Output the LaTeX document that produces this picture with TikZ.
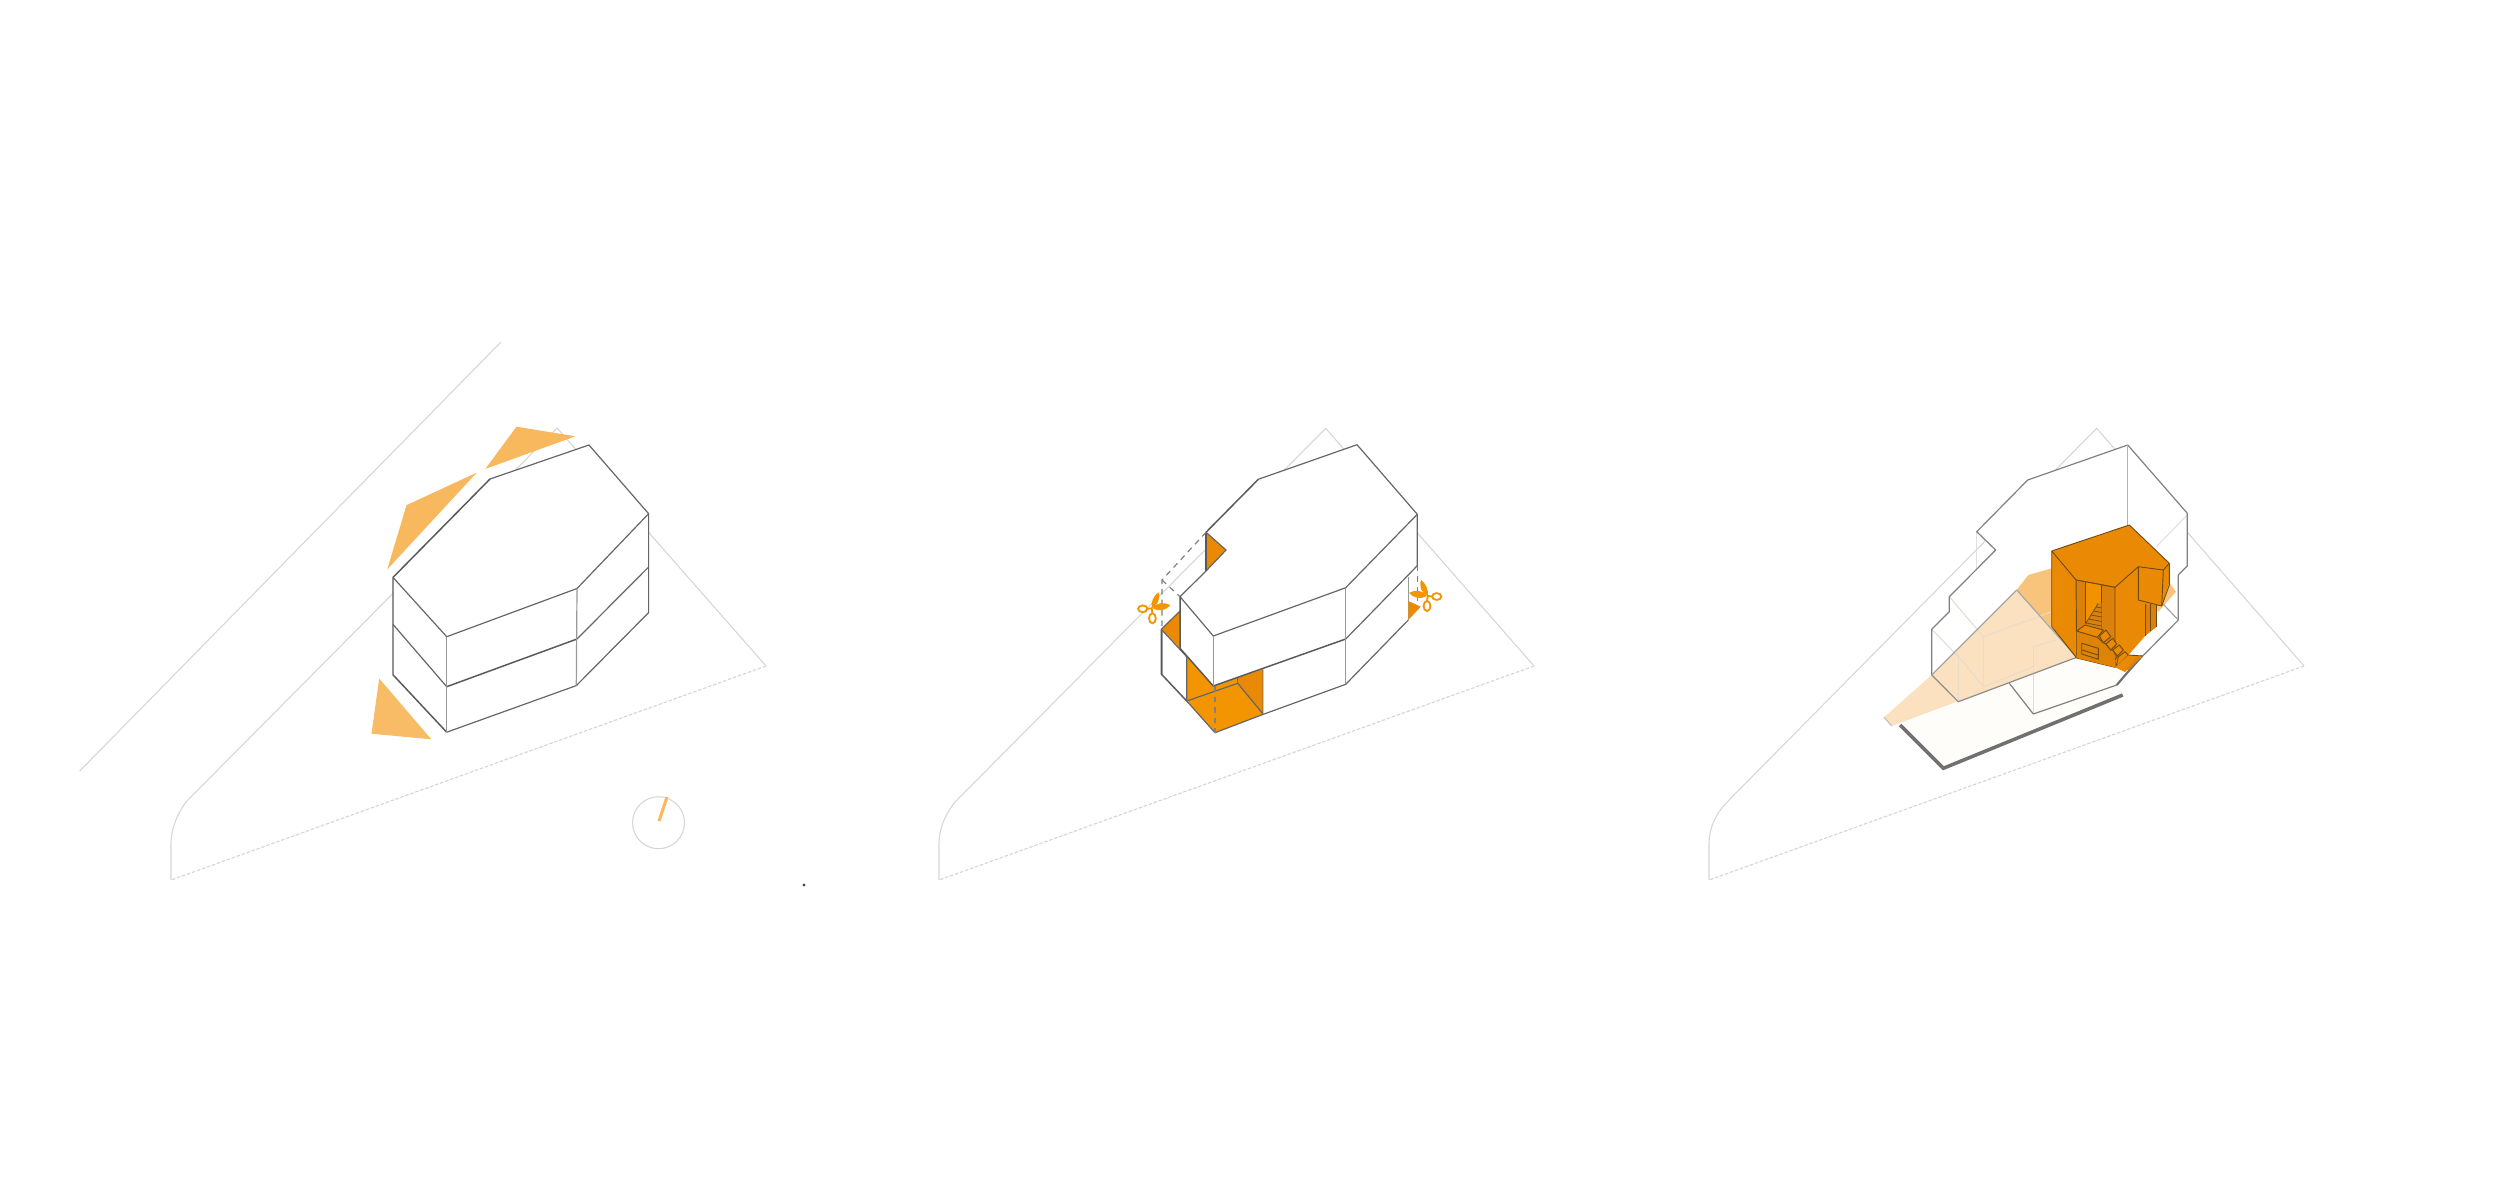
\documentclass[tikz,border=0pt]{standalone}
\definecolor{lightor}{HTML}{F8B85E}
\definecolor{brightor}{HTML}{F39500}
\definecolor{midor}{HTML}{EA8A04}
\definecolor{deepor}{HTML}{DC800C}
\definecolor{conepale}{HTML}{FBE1C0}
\definecolor{conemid}{HTML}{F8C47C}
\definecolor{floorw}{HTML}{FEFDFA}
\definecolor{sitec}{HTML}{D6D6D6}
\definecolor{edgec}{HTML}{666666}
\definecolor{thickc}{HTML}{707070}
\definecolor{ghost}{HTML}{E6DCCB}
\definecolor{blockc}{HTML}{6E4A12}
\tikzset{
  sitel/.style={draw=sitec,line width=0.3pt},
  sited/.style={draw=sitec,line width=0.32pt,dash pattern=on 1pt off 0.5pt},
  edgel/.style={draw=edgec,line width=0.34pt,line join=round},
  edgeh/.style={draw=black!65,line width=0.42pt,line join=round},
  softl/.style={draw=black!40,line width=0.34pt,line join=round},
  wfill/.style={fill=white},
  dashl/.style={draw=black!50,line width=0.34pt,dash pattern=on 1.6pt off 1.4pt},
  ghostl/.style={draw=ghost,line width=0.3pt},
  blockl/.style={draw=blockc,line width=0.26pt,line join=round},
  scissorsp/.pic={
    \fill[brightor] (0,0) .. controls (-1,-6) and (1.5,-12) .. (6.7,-16) .. controls (9,-9) and (6,-3) .. cycle;
    \fill[brightor] (1,0) .. controls (5,-6) and (12,-6.5) .. (18.5,-3.3) .. controls (14,2.5) and (7,3.5) .. cycle;
    \draw[brightor,line width=0.52pt] (-9,0.5) ellipse (4.6 and 3.4);
    \draw[brightor,line width=0.52pt] (0.7,10) ellipse (3.4 and 5);
    \draw[brightor,line width=0.52pt] (-4.5,0.5) -- (0,0) -- (0.7,5);
  }
}
\begin{document}
\begin{tikzpicture}[x=0.01cm,y=-0.01cm]
\useasboundingbox (0,0) rectangle (2500,1200);
\fill[white] (0,0) rectangle (2500,1200);

% ---------- Panel 1 ----------
\draw[sitel] (501,342) -- (79.7,771);
\draw[sitel] (171,880) -- (171,844) .. controls (171,830) and (176,816) .. (186,802) -- (557,428) -- (766,666);
\draw[sited] (766,666) -- (171,880);
\fill[lightor] (516.5,426.7) -- (575.4,436.3) -- (485.4,468.9) -- cycle;
\fill[lightor] (476.8,472.6) -- (406.5,505.2) -- (387.3,569.3) -- cycle;
\fill[lightor!95!white] (379.2,678.5) -- (371.5,733.7) -- (431.3,739.3) -- cycle;
\path[wfill] (589,445) -- (648.6,513.7) -- (648.6,612.6) -- (576.3,685.6) -- (446.7,732.2) -- (393,674.8) -- (393,577.4) -- (490,479) -- cycle;
\draw[edgeh] (393,577.4) -- (490,479);
\draw[edgel] (490,479) -- (589,445) -- (648.6,513.7);
\draw[edgel] (393,577.4) -- (446.7,636.7) -- (577,588.5) -- (648.6,513.7);
\draw[edgeh] (393,577.4) -- (393,674.8) -- (446.7,732.2);
\draw[edgel] (393,624.4) -- (446.7,686.7);
\draw[edgeh] (446.7,686.7) -- (577,639);
\draw[edgel] (577,639) -- (648.6,567);
\draw[edgel] (446.7,732.2) -- (576.3,685.6) -- (648.6,612.6) -- (648.6,513.7);
\draw[softl] (446.7,636.7) -- (446.7,732.2);
\draw[softl] (577,588.5) -- (576.3,685.6);
\draw[draw=sitec,line width=0.3pt] (658.5,822.7) circle (26);
\draw[lightor,line width=0.85pt] (667,797) -- (659,821);
\fill[black!70] (804,885) circle (1.6);

% ---------- Panel 2 ----------
\draw[sitel] (939,880) -- (939,844) .. controls (939,830) and (944,816) .. (955,802) -- (1325.7,428.3) -- (1534,666);
\draw[sited] (1534,666) -- (939,880);
% lower volume
\path[wfill] (1161.3,629.3) -- (1180,648.3) -- (1186.7,656.7) -- (1186.7,701) -- (1161.3,674) -- cycle;
\draw[edgeh] (1161.3,629.3) -- (1161.3,674) -- (1186.7,701);
\draw[softl] (1162.3,630) -- (1162.3,674);
\fill[midor] (1161.3,629.3) -- (1180,611) -- (1180,648.3) -- cycle;
\draw[edgel] (1161.3,629.3) -- (1180,611);
\draw[edgel] (1161.3,629.3) -- (1186.7,656.7);
% orange cut floor
\fill[brightor] (1186.7,656.7) -- (1213.3,686) -- (1263.3,669.3) -- (1263.3,714.3) -- (1215,732.7) -- (1186.7,701) -- cycle;
\fill[midor] (1237.7,678) -- (1263.3,669.3) -- (1263.3,714.3) -- (1237.7,683.3) -- cycle;
\draw[edgel] (1186.7,656.7) -- (1186.7,701) -- (1215,732.7) -- (1263.3,714.3) -- (1263.3,669.3);
\draw[edgel] (1186.7,701) -- (1237.7,683.3) -- (1263.3,714.3);
\draw[edgel] (1237.7,683.3) -- (1237.7,677.5);
\draw[dashl] (1215,686) -- (1215,732.7);
% lower wall
\path[wfill] (1263.3,669.3) -- (1345.7,639) -- (1345.7,684.3) -- (1263.3,714.3) -- cycle;
\path[wfill] (1345.7,639) -- (1408.3,576.7) -- (1408.3,620) -- (1345.7,684.3) -- cycle;
\path[wfill] (1408.3,576.7) -- (1417.3,565.7) -- (1417.3,601) -- (1408.3,601) -- cycle;
\draw[edgel] (1263.3,714.3) -- (1345.7,684.3) -- (1408.3,620);
\draw[softl] (1408.3,576.7) -- (1408.3,620);
\fill[midor] (1408.3,601) -- (1420.7,606.7) -- (1408.3,620) -- cycle;
\draw[dashl] (1417.3,565.7) -- (1417.3,601);
% upper volume
\path[wfill] (1357,444.7) -- (1417.3,514.3) -- (1417.3,565.7) -- (1345.7,639) -- (1213.3,686) -- (1180,648.3) -- (1180,596.7) -- (1206,571) -- (1226,550) -- (1206,532.3) -- (1258.3,479.3) -- cycle;
\fill[midor] (1206,532.3) -- (1226,550) -- (1206,571) -- cycle;
\draw[edgel] (1206,532.3) -- (1226,550) -- (1206,571);
\draw[edgeh] (1206,532.3) -- (1206,571);
\draw[edgeh] (1206,532.3) -- (1258.3,479.3);
\draw[edgel] (1258.3,479.3) -- (1357,444.7) -- (1417.3,514.3) -- (1345.7,587.7) -- (1213.3,636) -- (1180,596.7) -- (1206,571);
\draw[edgeh] (1180,596.7) -- (1180,648.3) -- (1213.3,686) -- (1345.7,639) ;
\draw[edgel] (1345.7,639) -- (1417.3,565.7) -- (1417.3,514.3);
\draw[softl] (1213.3,636) -- (1213.3,686);
\draw[softl] (1345.7,587.7) -- (1345.7,684.3);
% dashed removed corner
\draw[dashl] (1206,532.3) -- (1162,580) -- (1162,629.3);
\draw[dashl] (1162,580) -- (1180,596.7);
\pic at (1151.7,608.3) {scissorsp};
\pic[xscale=-1] at (1427.7,596) {scissorsp};

% ---------- Panel 3 ----------
\draw[sitel] (1709,880) -- (1709,844) .. controls (1709,830) and (1714,816) .. (1727,802) -- (2096.7,428.3) -- (2304,666);
\draw[sited] (2304,666) -- (1709,880);
% white building
\path[wfill] (2127.7,445) -- (2187.3,513.3) -- (2187.3,566) -- (2178.3,575) -- (2178.3,620) -- (2116.7,685) -- (2033.3,714) -- (2009.3,683.3) -- (1931.7,675) -- (1931.7,629.3) -- (1949.3,611.7) -- (1949.3,596.7) -- (1995.7,550) -- (1976.7,531.7) -- (2027.7,480) -- cycle;
\draw[draw=black!12,line width=0.3pt] (2187.3,515) -- (2156,547);
\draw[draw=black!12,line width=0.3pt] (1976.7,531.7) -- (1976.7,570);
% floor
\fill[floorw] (1900,725) -- (2009.3,683.3) -- (2033.3,714) -- (2116.7,685) -- (2122.7,695) -- (1943.3,768.3) -- cycle;
\fill[floorw] (2009.3,683.3) -- (2076.7,657.3) -- (2130,666) -- (2116.7,685) -- (2033.3,714) -- cycle;
\draw[thickc,line width=1pt,line join=miter] (1900,725) -- (1943.3,768.3) -- (2122.7,695);
% cone
\fill[conepale] (1884,717.3) -- (1891.7,726) -- (2076.7,657.3) -- (2051.7,628) -- (2016.7,590) -- (1931.7,675) -- cycle;
\fill[conemid] (2016.7,590) -- (2028.3,575) -- (2051.7,568.3) -- (2051.7,628) -- cycle;
\fill[conemid] (2168,581) -- (2176,591.7) -- (2158.3,611.7) -- (2150,600) -- cycle;
\draw[line width=0.3pt,draw=black!25] (1884,717.3) -- (1891.7,726);
% ghost lines
\draw[ghostl] (1949.3,596.7) -- (1983.3,636.7) -- (1983.3,686.7);
\draw[ghostl] (1931.7,629.3) -- (1958.3,656.7) -- (1958.3,701.7);
\draw[ghostl] (1956,653) -- (1983.3,686.7) -- (2033.3,666.7);
\draw[ghostl] (1983.3,636.7) -- (2051.7,611.7);
\draw[ghostl] (2033.3,646.7) -- (2033.3,714);
\draw[ghostl] (2033.3,646.7) -- (2056,640);
% outline
\draw[edgel,draw=black!50] (2127.7,445) -- (2187.3,513.3) -- (2187.3,566) -- (2178.3,575) -- (2178.3,620) -- (2142.7,656) -- (2126.7,673.3) ;
\draw[thickc,line width=0.6pt] (2142,656) -- (2126.7,673.3) -- (2116.7,685);
\draw[edgel,draw=black!50] (2116.7,685) -- (2033.3,714) -- (2009.3,683.3);
\draw[edgel,draw=black!50] (2127.7,445) -- (2027.7,480) -- (1976.7,531.7) -- (1995.7,550) -- (1949.3,596.7) -- (1949.3,611.7) -- (1931.7,629.3) -- (1931.7,675);
\draw[edgel,draw=black!35] (1931.7,675) -- (2016.7,590);
\draw[edgel,draw=black!45] (1931.7,675) -- (1958.3,701.7) -- (2076.7,657.3);
\draw[edgel,draw=black!30] (2127.7,445) -- (2127.7,525);
\draw[edgel,draw=black!35] (2163,604) -- (2178.3,620);
\draw[edgel,draw=black!35] (2016.7,590) -- (2076.7,657.3);
% orange core
\fill[midor] (2051.7,551) -- (2129.3,525) -- (2169.3,563.3) -- (2169.3,582) -- (2161.7,606) -- (2145,604) -- (2145,636) -- (2130,653.3) -- (2115,667.3) -- (2076.7,658) -- (2051.7,626.7) -- cycle;
\draw[blockl] (2051.7,551) -- (2129.3,525) -- (2169.3,563.3) -- (2163.3,570) -- (2138.3,566.7) -- (2115,587.3) -- (2076,580) -- cycle;
\draw[blockl] (2051.7,551) -- (2051.7,626.7) -- (2076.7,658);
\draw[blockl] (2169.3,563.3) -- (2169.3,585) -- (2161.7,606) -- (2138.3,600) -- (2138.3,566.7);
\draw[blockl] (2163.3,570) -- (2161.7,606);
% recess
\fill[deepor] (2076,580) -- (2115,587.3) -- (2115,667.3) -- (2076.7,658) -- cycle;
\fill[brightor!70!midor] (2085,581.7) -- (2101.7,584.7) -- (2101.7,630) -- (2085,625) -- cycle;
\draw[blockl] (2076,580) -- (2115,587.3) -- (2115,667.3) -- (2076.7,658) -- cycle;
\draw[blockl] (2085,581.7) -- (2085,625);
\draw[blockl] (2101.7,584.7) -- (2101.7,630);
% upper stairs
\fill[deepor] (2098,603.3) -- (2101.7,603.3) -- (2101.7,630) -- (2085,625) -- cycle;
\draw[blockl,line width=0.2pt] (2098,603.3) -- (2096,607) -- (2101.7,608) (2096,607) -- (2093.5,611) -- (2101.7,612.5) (2093.5,611) -- (2091,615) -- (2101.7,617) (2091,615) -- (2088.5,619) -- (2101.7,621.5) (2088.5,619) -- (2086,623) -- (2101.7,626);
% base block
\fill[midor] (2076.7,631) -- (2085,625) -- (2103.3,630) -- (2097.3,637.3) -- cycle;
\fill[midor!95!black] (2076.7,631) -- (2097.3,637.3) -- (2115,656) -- (2115,667.3) -- (2076.7,658) -- cycle;
\draw[blockl] (2076.7,631) -- (2085,625) -- (2103.3,630) -- (2097.3,637.3) -- cycle;
\draw[blockl] (2097.3,637.3) -- (2103.3,642.7) -- (2106,644) -- (2110.7,650) -- (2112.7,650) -- (2117.3,656) -- (2115,660);
\draw[blockl] (2081.7,643.3) -- (2098.3,648.3) -- (2098.3,659.3) -- (2081.7,654) -- cycle;
\draw[blockl] (2082,650) -- (2098,655);
% lower stairs
\fill[midor] (2099.3,636) -- (2106,630) -- (2110.7,636.7) -- (2103.3,642.7) -- cycle;
\fill[midor] (2106,644) -- (2112.7,638.3) -- (2116.7,644) -- (2110.7,650) -- cycle;
\fill[midor] (2112.7,650) -- (2119.3,645) -- (2123.3,650) -- (2117.3,656) -- cycle;
\fill[midor] (2118.3,656.7) -- (2125,651.7) -- (2128.3,655) -- (2116,667) -- cycle;
\draw[blockl] (2099.3,636) -- (2106,630) -- (2110.7,636.7) -- (2103.3,642.7) -- cycle;
\draw[blockl] (2106,644) -- (2112.7,638.3) -- (2116.7,644) -- (2110.7,650) -- cycle;
\draw[blockl] (2112.7,650) -- (2119.3,645) -- (2123.3,650) -- (2117.3,656) -- cycle;
\draw[blockl] (2118.3,656.7) -- (2125,651.7) -- (2128.3,655) -- (2116,667) -- cycle;
% lower landing
\fill[midor] (2128.3,655) -- (2142.7,656) -- (2125,672) -- (2115,667.3) -- cycle;
\fill[deepor] (2136.7,657) -- (2140,657) -- (2129,670) -- (2126,669) -- cycle;
\draw[blockl] (2128.3,655) -- (2142.7,656);
% right niche
\fill[deepor] (2145,604) -- (2156.7,605) -- (2156.7,626.7) -- (2145,636) -- cycle;
\draw[blockl] (2145,604) -- (2145,636);
\draw[blockl] (2150,604) -- (2150,631);
\draw[blockl] (2156.7,605) -- (2156.7,626.7);
\end{tikzpicture}
\end{document}
